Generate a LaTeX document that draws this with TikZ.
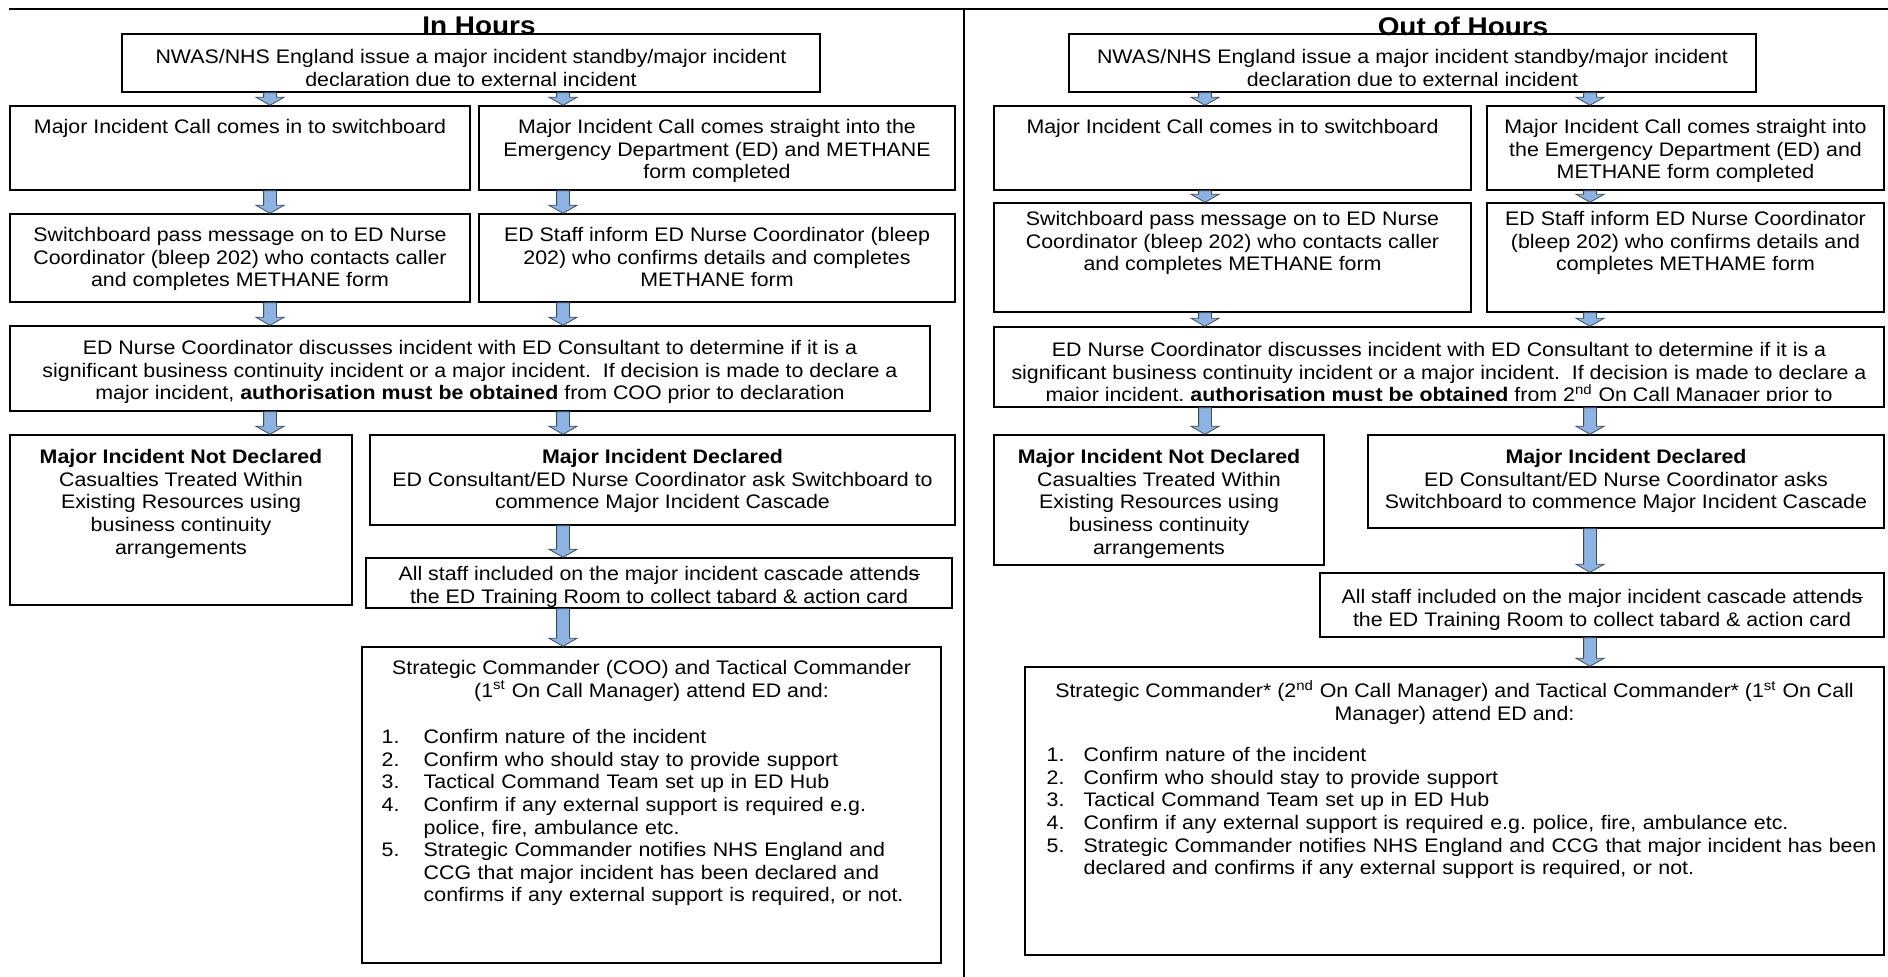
\documentclass[tikz,border=0pt]{standalone}
\usepackage{fontspec}
\setmainfont{Liberation Sans}[FakeStretch=1.09]
\usetikzlibrary{calc,fit}
\definecolor{arrfill}{HTML}{8DB3E2}
\definecolor{arredge}{HTML}{3A4A60}
\newcommand\bodyfont{\fontsize{9.8}{11.3}\selectfont}
\newcommand\strk[1]{\ooalign{#1\cr\hidewidth\rule[0.28em]{0.55em}{0.05em}\hidewidth\cr}}
\newcommand\itm[3]{\hangindent=#3\hangafter=1\noindent\makebox[#3][l]{#1}#2\par}
\newcommand\barrow[2]{\path[arr] let \p1=(#1), \p2=(#2) in
  ({\x1-3.2pt},{\y1}) -- ({\x1+3.2pt},{\y1}) -- ({\x1+3.2pt},{\y2+4pt}) -- ({\x1+7pt},{\y2+4pt})
  -- ({\x1},{\y2}) -- ({\x1-7pt},{\y2+4pt}) -- ({\x1-3.2pt},{\y2+4pt}) -- cycle;}
\tikzset{
  box/.style={draw=black, line width=0.7pt, inner sep=0pt},
  txt/.style={inner sep=0pt, align=center, font=\bodyfont},
  ttl/.style={inner sep=0pt, font=\fontsize{12.8}{14}\selectfont\bfseries},
  arr/.style={fill=arrfill, draw=arredge, line width=0.4pt},
  frame/.style={draw=black, line width=1.2pt},
  divider/.style={draw=black, line width=0.9pt},
}
\begin{document}
\begin{tikzpicture}[x=0.5pt,y=-0.5pt]
\useasboundingbox (0,0) rectangle (1888,977);
% frame lines
\draw[frame] (9,9) -- (1888,9);
\draw[divider] (964,9) -- (964,977);
% arrow columns
\coordinate (c1) at (270,0);
\coordinate (c2) at (563,0);
\coordinate (c3) at (1205,0);
\coordinate (c4) at (1590,0);
% ================= IN HOURS =================
\node[ttl] (t1) at (479,26) {In Hours};
\node[box, fit={(122,34) (820,92)}] (a1) {};
\begin{scope}
\clip (a1.north west) rectangle ([yshift=3.5pt]a1.south east);
\node[txt, anchor=north] (a1t) at ([yshift=-7.85pt]a1.north) {NWAS/NHS England issue a major incident standby/major incident\\declaration due to external incident};
\end{scope}
\node[box, fit={(10,106) (470,190)}] (a2) {};
\node[txt, anchor=north] (a2t) at ([yshift=-6.85pt]a2.north) {Major Incident Call comes in to switchboard};
\node[box, fit={(479,106) (955,190)}] (a3) {};
\node[txt, anchor=north] (a3t) at ([yshift=-6.85pt]a3.north) {Major Incident Call comes straight into the\\Emergency Department (ED) and METHANE\\form completed};
\node[box, fit={(10,214) (470,302)}] (a4) {};
\node[txt, anchor=north] (a4t) at ([yshift=-6.85pt]a4.north) {Switchboard pass message on to ED Nurse\\Coordinator (bleep 202) who contacts caller\\and completes METHANE form};
\node[box, fit={(479,214) (955,302)}] (a5) {};
\node[txt, anchor=north] (a5t) at ([yshift=-6.85pt]a5.north) {ED Staff inform ED Nurse Coordinator (bleep\\202) who confirms details and completes\\METHANE form};
\node[box, fit={(10,326) (930,411)}] (a6) {};
\node[txt, anchor=north] (a6t) at ([yshift=-7.35pt]a6.north) {ED Nurse Coordinator discusses incident with ED Consultant to determine if it is a\\significant business continuity incident or a major incident.\ \ If decision is made to declare a\\major incident, \textbf{authorisation must be obtained} from COO prior to declaration};
\node[box, fit={(10,435) (352,605)}] (a7) {};
\node[txt, anchor=north] (a7t) at ([yshift=-7.35pt]a7.north) {\textbf{Major Incident Not Declared}\\Casualties Treated Within\\Existing Resources using\\business continuity\\arrangements};
\node[box, fit={(370,435) (955,525)}] (a8) {};
\node[txt, anchor=north] (a8t) at ([yshift=-7.35pt]a8.north) {\textbf{Major Incident Declared}\\ED Consultant/ED Nurse Coordinator ask Switchboard to\\commence Major Incident Cascade};
\node[box, fit={(366,558) (952,608)}] (a9) {};
\node[txt, anchor=north] (a9t) at ([yshift=-4.35pt]a9.north) {All staff included on the major incident cascade attend\strk{s}\\the ED Training Room to collect tabard \& action card};
\node[box, fit={(362,647) (941,963)}] (a10) {};
\node[txt, anchor=north] (a10t) at ([yshift=-6.85pt]a10.north) {Strategic Commander (COO) and Tactical Commander\\(1\textsuperscript{st} On Call Manager) attend ED and:};
\node[txt, align=left, text width=278pt, anchor=north west] (a10l) at ([xshift=10pt,yshift=-41.35pt]a10.north west) {%
\itm{1.}{Confirm nature of the incident}{21pt}%
\itm{2.}{Confirm who should stay to provide support}{21pt}%
\itm{3.}{Tactical Command Team set up in ED Hub}{21pt}%
\itm{4.}{Confirm if any external support is required e.g.\newline police, fire, ambulance etc.}{21pt}%
\itm{5.}{Strategic Commander notifies NHS England and\newline CCG that major incident has been declared and\newline confirms if any external support is required, or not.}{21pt}};
% arrows
\barrow{a1.south -| c1}{a2.north -| c1}
\barrow{a1.south -| c2}{a3.north -| c2}
\barrow{a2.south -| c1}{a4.north -| c1}
\barrow{a3.south -| c2}{a5.north -| c2}
\barrow{a4.south -| c1}{a6.north -| c1}
\barrow{a5.south -| c2}{a6.north -| c2}
\barrow{a6.south -| c1}{a7.north -| c1}
\barrow{a6.south -| c2}{a8.north -| c2}
\barrow{a8.south -| c2}{a9.north -| c2}
\barrow{a9.south -| c2}{a10.north -| c2}
% ================= OUT OF HOURS =================
\node[ttl] (t2) at (1463,26) {Out of Hours};
\node[box, fit={(1069,34) (1756,92)}] (b1) {};
\begin{scope}
\clip (b1.north west) rectangle ([yshift=3.5pt]b1.south east);
\node[txt, anchor=north] (b1t) at ([yshift=-7.85pt]b1.north) {NWAS/NHS England issue a major incident standby/major incident\\declaration due to external incident};
\end{scope}
\node[box, fit={(994,106) (1471,190)}] (b2) {};
\node[txt, anchor=north] (b2t) at ([yshift=-6.85pt]b2.north) {Major Incident Call comes in to switchboard};
\node[box, fit={(1487,106) (1884,190)}] (b3) {};
\node[txt, anchor=north] (b3t) at ([yshift=-6.85pt]b3.north) {Major Incident Call comes straight into\\the Emergency Department (ED) and\\METHANE form completed};
\node[box, fit={(994,203) (1471,312)}] (b4) {};
\node[txt, anchor=north] (b4t) at ([yshift=-4.35pt]b4.north) {Switchboard pass message on to ED Nurse\\Coordinator (bleep 202) who contacts caller\\and completes METHANE form};
\node[box, fit={(1487,203) (1884,312)}] (b5) {};
\node[txt, anchor=north] (b5t) at ([yshift=-4.35pt]b5.north) {ED Staff inform ED Nurse Coordinator\\(bleep 202) who confirms details and\\completes METHAME form};
\node[box, fit={(994,327) (1884,407)}] (b6) {};
\begin{scope}
\clip (b6.north west) rectangle ([yshift=3.5pt]b6.south east);
\node[txt, anchor=north] (b6t) at ([yshift=-7.85pt]b6.north) {ED Nurse Coordinator discusses incident with ED Consultant to determine if it is a\\significant business continuity incident or a major incident.\ \ If decision is made to declare a\\major incident, \textbf{authorisation must be obtained} from 2\textsuperscript{nd} On Call Manager prior to\\declaration};
\end{scope}
\node[box, fit={(994,435) (1324,565)}] (b7) {};
\node[txt, anchor=north] (b7t) at ([yshift=-7.35pt]b7.north) {\textbf{Major Incident Not Declared}\\Casualties Treated Within\\Existing Resources using\\business continuity\\arrangements};
\node[box, fit={(1368,435) (1884,528)}] (b8) {};
\node[txt, anchor=north] (b8t) at ([yshift=-7.35pt]b8.north) {\textbf{Major Incident Declared}\\ED Consultant/ED Nurse Coordinator asks\\Switchboard to commence Major Incident Cascade};
\node[box, fit={(1320,573) (1884,637)}] (b9) {};
\node[txt, anchor=north] (b9t) at ([yshift=-8.35pt]b9.north) {All staff included on the major incident cascade attend\strk{s}\\the ED Training Room to collect tabard \& action card};
\node[box, fit={(1025,667) (1884,955)}] (b10) {};
\node[txt, anchor=north] (b10t) at ([yshift=-6.85pt]b10.north) {Strategic Commander* (2\textsuperscript{nd} On Call Manager) and Tactical Commander* (1\textsuperscript{st} On Call\\Manager) attend ED and:};
\node[txt, align=left, text width=428pt, anchor=north west] (b10l) at ([xshift=11pt,yshift=-40.35pt]b10.north west) {%
\itm{1.}{Confirm nature of the incident}{18.5pt}%
\itm{2.}{Confirm who should stay to provide support}{18.5pt}%
\itm{3.}{Tactical Command Team set up in ED Hub}{18.5pt}%
\itm{4.}{Confirm if any external support is required e.g.\ police, fire, ambulance etc.}{18.5pt}%
\itm{5.}{Strategic Commander notifies NHS England and CCG that major incident has been\newline declared and confirms if any external support is required, or not.}{18.5pt}};
% arrows
\barrow{b1.south -| c3}{b2.north -| c3}
\barrow{b1.south -| c4}{b3.north -| c4}
\barrow{b2.south -| c3}{b4.north -| c3}
\barrow{b3.south -| c4}{b5.north -| c4}
\barrow{b4.south -| c3}{b6.north -| c3}
\barrow{b5.south -| c4}{b6.north -| c4}
\barrow{b6.south -| c3}{b7.north -| c3}
\barrow{b6.south -| c4}{b8.north -| c4}
\barrow{b8.south -| c4}{b9.north -| c4}
\barrow{b9.south -| c4}{b10.north -| c4}
\end{tikzpicture}
\end{document}
